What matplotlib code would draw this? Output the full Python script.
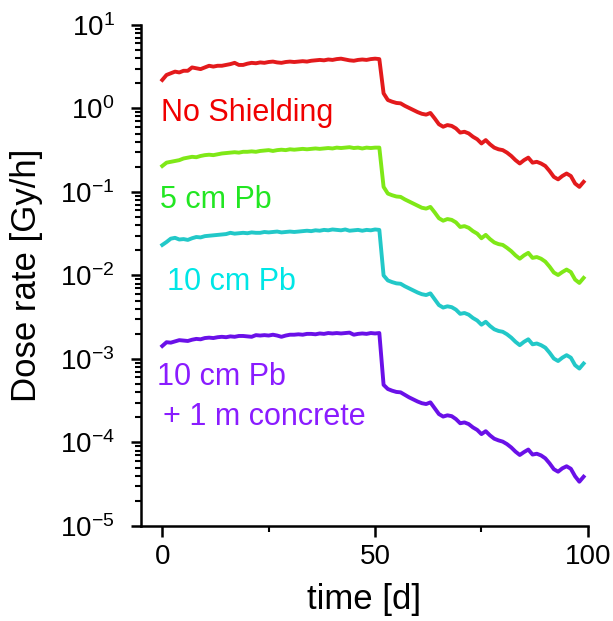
import matplotlib
matplotlib.use("Agg")
import matplotlib.pyplot as plt
from matplotlib.ticker import LogLocator, FixedLocator, NullFormatter
import numpy as np

plt.rcParams['font.family'] = ['Liberation Sans', 'DejaVu Sans']
plt.rcParams['mathtext.fontset'] = 'custom'
plt.rcParams['mathtext.rm'] = 'Liberation Sans'
plt.rcParams['mathtext.it'] = 'Liberation Sans'
plt.rcParams['axes.unicode_minus'] = False

# time axis (days)
days = list(range(100))

# dose rates as log10 values [Gy/h]
no_shield_log = [
    0.34, 0.40, 0.42, 0.44, 0.43, 0.45, 0.45, 0.49, 0.48, 0.47,
    0.49, 0.51, 0.50, 0.51, 0.51, 0.52, 0.53, 0.545, 0.52, 0.52,
    0.535, 0.545, 0.54, 0.55, 0.545, 0.555, 0.56, 0.55, 0.545, 0.555,
    0.56, 0.555, 0.56, 0.565, 0.56, 0.57, 0.575, 0.58, 0.575, 0.585,
    0.58, 0.59, 0.595, 0.585, 0.575, 0.57, 0.58, 0.585, 0.58, 0.59,
    0.595, 0.59,
    0.18, 0.10, 0.08, 0.065, 0.06, 0.03, 0.005, -0.02, -0.045, -0.065,
    -0.075, -0.055, -0.12, -0.19, -0.22, -0.20, -0.21, -0.24, -0.29, -0.28,
    -0.30, -0.34, -0.37, -0.42, -0.38, -0.43, -0.47, -0.49, -0.50, -0.53,
    -0.57, -0.62, -0.66, -0.62, -0.59, -0.65, -0.64, -0.66, -0.69, -0.75,
    -0.82, -0.85, -0.81, -0.78, -0.81, -0.90, -0.94, -0.88,
]
pb5_log = [
    -0.69, -0.65, -0.64, -0.63, -0.62, -0.60, -0.59, -0.58, -0.585, -0.57,
    -0.56, -0.555, -0.56, -0.55, -0.54, -0.535, -0.53, -0.525, -0.53, -0.52,
    -0.52, -0.515, -0.52, -0.51, -0.505, -0.50, -0.51, -0.50, -0.495, -0.50,
    -0.49, -0.495, -0.49, -0.485, -0.49, -0.485, -0.48, -0.485, -0.48, -0.475,
    -0.48, -0.47, -0.475, -0.47, -0.465, -0.475, -0.47, -0.48, -0.47, -0.475,
    -0.47, -0.47,
    -0.94, -1.02, -1.04, -1.055, -1.06, -1.09, -1.115, -1.14, -1.165, -1.19,
    -1.20, -1.18, -1.245, -1.315, -1.345, -1.325, -1.335, -1.365, -1.42, -1.41,
    -1.43, -1.47, -1.50, -1.555, -1.515, -1.565, -1.605, -1.625, -1.635, -1.67,
    -1.71, -1.76, -1.80, -1.76, -1.73, -1.79, -1.78, -1.80, -1.835, -1.895,
    -1.965, -1.995, -1.96, -1.93, -1.96, -2.05, -2.09, -2.03,
]
pb10_log = [
    -1.635, -1.60, -1.56, -1.55, -1.57, -1.565, -1.575, -1.555, -1.54, -1.545,
    -1.53, -1.525, -1.52, -1.515, -1.51, -1.505, -1.49, -1.50, -1.495, -1.49,
    -1.495, -1.485, -1.49, -1.49, -1.48, -1.485, -1.48, -1.475, -1.485, -1.48,
    -1.475, -1.48, -1.475, -1.47, -1.465, -1.47, -1.46, -1.465, -1.455, -1.46,
    -1.45, -1.455, -1.46, -1.45, -1.465, -1.46, -1.455, -1.465, -1.455, -1.46,
    -1.45, -1.455,
    -2.00, -2.06, -2.08, -2.095, -2.10, -2.13, -2.155, -2.18, -2.205, -2.225,
    -2.235, -2.215, -2.285, -2.355, -2.385, -2.37, -2.38, -2.41, -2.46, -2.45,
    -2.47, -2.51, -2.54, -2.59, -2.555, -2.605, -2.645, -2.665, -2.675, -2.705,
    -2.745, -2.795, -2.835, -2.795, -2.765, -2.825, -2.815, -2.835, -2.865, -2.925,
    -2.995, -3.025, -2.985, -2.955, -2.985, -3.075, -3.115, -3.055,
]
pb10_conc_log = [
    -2.845, -2.80, -2.805, -2.79, -2.775, -2.78, -2.785, -2.77, -2.76, -2.765,
    -2.75, -2.745, -2.75, -2.74, -2.735, -2.74, -2.73, -2.735, -2.725, -2.725,
    -2.73, -2.735, -2.715, -2.72, -2.715, -2.72, -2.71, -2.72, -2.735, -2.72,
    -2.71, -2.71, -2.705, -2.71, -2.70, -2.70, -2.705, -2.695, -2.70, -2.69,
    -2.695, -2.69, -2.695, -2.69, -2.685, -2.71, -2.70, -2.695, -2.70, -2.69,
    -2.695, -2.69,
    -3.31, -3.36, -3.38, -3.395, -3.40, -3.43, -3.46, -3.485, -3.51, -3.53,
    -3.54, -3.52, -3.59, -3.66, -3.69, -3.675, -3.685, -3.72, -3.77, -3.76,
    -3.78, -3.82, -3.85, -3.90, -3.865, -3.915, -3.955, -3.975, -3.99, -4.02,
    -4.06, -4.11, -4.15, -4.115, -4.085, -4.145, -4.135, -4.155, -4.19, -4.25,
    -4.32, -4.35, -4.31, -4.285, -4.315, -4.405, -4.47, -4.41,
]

series = [no_shield_log, pb5_log, pb10_log, pb10_conc_log]
line_colors = ['#e31a1c', '#7fe817', '#22c8c8', '#6a10e8']
text_colors = ['#f00000', '#22e622', '#00e6e6', '#8a1cff']

fig = plt.figure(figsize=(6.13, 6.21), dpi=100)
ax = fig.add_axes([0.230, 0.153, 0.729, 0.807])

for vals, c in zip(series, line_colors):
    ax.plot(days[:len(vals)], 10 ** np.array(vals), color=c, lw=2.8)

ax.set_yscale('log')
ax.set_xlim(-5, 100)
ax.set_ylim(1e-5, 1e1)

# labels next to each curve
fs = 22
ax.text(-0.3, 0.88, 'No Shielding', color=text_colors[0], fontsize=fs, va='center')
ax.text(-0.5, 0.080, '5 cm Pb', color=text_colors[1], fontsize=fs, va='center')
ax.text(1.2, 0.0084, '10 cm Pb', color=text_colors[2], fontsize=fs, va='center')
ax.text(-1.2, 6.1e-4, '10 cm Pb', color=text_colors[3], fontsize=fs, va='center')
ax.text(0.2, 2.0e-4, '+ 1 m concrete', color=text_colors[3], fontsize=fs, va='center')

ax.set_xlabel('time [d]', fontsize=25, labelpad=9)
ax.set_ylabel('Dose rate [Gy/h]', fontsize=25, labelpad=12)

for s in ['top', 'right']:
    ax.spines[s].set_visible(False)
for s in ['left', 'bottom']:
    ax.spines[s].set_linewidth(1.8)

ax.xaxis.set_major_locator(FixedLocator([0, 50, 100]))
ax.xaxis.set_minor_locator(FixedLocator([25, 75]))
ax.xaxis.set_minor_formatter(NullFormatter())
ax.yaxis.set_major_locator(LogLocator(base=10, numticks=10))
ax.yaxis.set_minor_locator(LogLocator(base=10, subs=np.arange(2, 10), numticks=20))
ax.yaxis.set_minor_formatter(NullFormatter())

ax.tick_params(axis='both', which='major', direction='out', width=1.8, labelsize=20)
ax.tick_params(axis='x', which='major', length=8, pad=5)
ax.tick_params(axis='y', which='major', length=7, pad=12)
ax.tick_params(axis='both', which='minor', direction='out', width=1.5, length=4)

fig.savefig('out.png', dpi=100)
